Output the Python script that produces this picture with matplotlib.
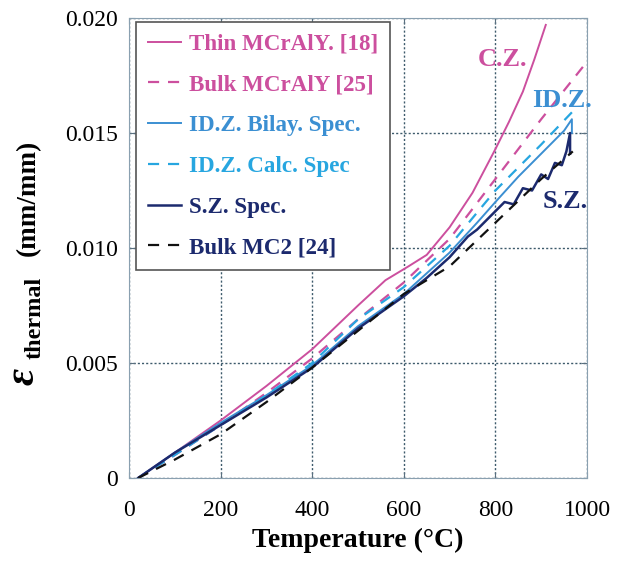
import numpy as np
import matplotlib
matplotlib.use('Agg')
import matplotlib.pyplot as plt

plt.rcParams['font.family'] = ['Liberation Serif', 'DejaVu Serif']

# ---- data ----
T_thin = [20, 100, 200, 300, 400, 500, 560, 585, 610, 650, 700, 750, 800, 830, 860, 885, 910]
e_thin = [0, 0.0011, 0.0025, 0.0040, 0.0056, 0.0075, 0.0086, 0.0089, 0.0092, 0.0097,
          0.0109, 0.0124, 0.0143, 0.0155, 0.0168, 0.0182, 0.0197]

T_bulk_mcraly = [20, 100, 200, 300, 400, 500, 600, 700, 800, 900, 1000]
e_bulk_mcraly = [0, 0.0010, 0.0023, 0.0037, 0.0052, 0.0069, 0.0085, 0.0104, 0.0130, 0.0156, 0.0181]

T_idz_bilay = [20, 100, 200, 300, 400, 500, 600, 700, 760, 800, 850, 900, 950, 967, 967]
e_idz_bilay = [0, 0.0011, 0.0024, 0.0036, 0.0049, 0.0066, 0.0080, 0.0098, 0.0111, 0.0120,
               0.0131, 0.0141, 0.0151, 0.0156, 0.0150]

T_idz_calc = [20, 100, 200, 300, 400, 500, 600, 700, 800, 900, 967]
e_idz_calc = [0, 0.0010, 0.0023, 0.0036, 0.0050, 0.0069, 0.0083, 0.0101, 0.0125, 0.0145, 0.0159]

T_sz = [20, 100, 200, 300, 400, 500, 600, 650, 700, 740, 760, 780, 800, 820, 840, 860,
        880, 900, 915, 930, 945, 955, 963, 963]
e_sz = [0, 0.0011, 0.0023, 0.0035, 0.0048, 0.0065, 0.0079, 0.0087, 0.0096, 0.0105, 0.0108,
        0.0112, 0.0116, 0.0120, 0.0119, 0.0126, 0.0125, 0.0132, 0.0130, 0.0137, 0.0136,
        0.0142, 0.0150, 0.0141]

T_bulk_mc2 = [20, 100, 200, 300, 400, 500, 600, 700, 800, 900, 969]
e_bulk_mc2 = [0, 0.0008, 0.0019, 0.0033, 0.0048, 0.0064, 0.0080, 0.0092, 0.0111, 0.0130, 0.0142]

x_ticks = [0, 200, 400, 600, 800, 1000]
y_ticks = [0, 0.005, 0.010, 0.015, 0.020]
y_labels = ['0', '0.005', '0.010', '0.015', '0.020']

pink = '#cc4f9e'
blue = '#3b8fd2'
lblue = '#27a6e0'
navy = '#1c2a6e'

W, H = 630, 561
fig = plt.figure(figsize=(W / 100, H / 100), dpi=100)
ax = fig.add_axes([129 / W, 1 - 478 / H, 458 / W, 460 / H])

ax.plot(T_thin, e_thin, color=pink, lw=1.4, label='Thin MCrAlY. [18]')
ax.plot(T_bulk_mcraly, e_bulk_mcraly, color=pink, lw=1.6, ls=(0, (5, 4)), label='Bulk MCrAlY [25]')
ax.plot(T_idz_bilay, e_idz_bilay, color=blue, lw=1.4, label='ID.Z. Bilay. Spec.')
ax.plot(T_idz_calc, e_idz_calc, color=lblue, lw=1.6, ls=(0, (5, 4)), label='ID.Z. Calc. Spec')
ax.plot(T_sz, e_sz, color=navy, lw=1.8, label='S.Z. Spec.')
ax.plot(T_bulk_mc2, e_bulk_mc2, color='#111111', lw=1.6, ls=(0, (5, 4)), label='Bulk MC2 [24]')

ax.set_xlim(0, 1000)
ax.set_ylim(0, 0.020)
ax.set_xticks(x_ticks)
ax.set_yticks(y_ticks)
ax.set_yticklabels(y_labels)
ax.tick_params(direction='in', length=4, top=True, right=True, labelsize=17,
               color='#5a7080')
ax.tick_params(axis='x', pad=16)
ax.tick_params(axis='y', pad=8)
ax.grid(True, ls=(0, (1.5, 1.5)), color='#3d5a6b', lw=1)
for s in ax.spines.values():
    s.set_color('#8aa0b0')

ax.set_xlabel('Temperature (°C)', fontsize=20, fontweight='bold', labelpad=5)

# y label built from three pieces (big epsilon, subscript, units)
fig.text(24 / W, 1 - 376 / H, 'ε', fontsize=30, fontweight='bold', fontstyle='italic',
         rotation=90, ha='center', va='center')
fig.text(35 / W, 1 - 318 / H, 'thermal', fontsize=17.5, fontweight='bold',
         rotation=90, ha='center', va='center')
fig.text(28 / W, 1 - 198 / H, '(mm/mm)', fontsize=19.5, fontweight='bold',
         rotation=90, ha='center', va='center')

ax.text(815, 0.0182, 'C.Z.', color=pink, fontsize=19, fontweight='bold', ha='center', va='center')
ax.text(946, 0.0164, 'ID.Z.', color=blue, fontsize=19, fontweight='bold', ha='center', va='center')
ax.text(952, 0.0120, 'S.Z.', color=navy, fontsize=19, fontweight='bold', ha='center', va='center')

leg = ax.legend(loc='upper left', bbox_to_anchor=(136 / W, 1 - 22 / H),
                bbox_transform=fig.transFigure, borderaxespad=0, fancybox=False,
                fontsize=16.6, handlelength=1.45, handletextpad=0.35, labelspacing=0.85,
                borderpad=0.5, framealpha=1)
leg.get_frame().set_edgecolor('#555555')
leg.get_frame().set_linewidth(1.2)
for txt, ln in zip(leg.get_texts(), leg.get_lines()):
    txt.set_color(ln.get_color())
    txt.set_fontweight('bold')
leg.get_texts()[-1].set_color(navy)

fig.savefig('out.png', dpi=100)
